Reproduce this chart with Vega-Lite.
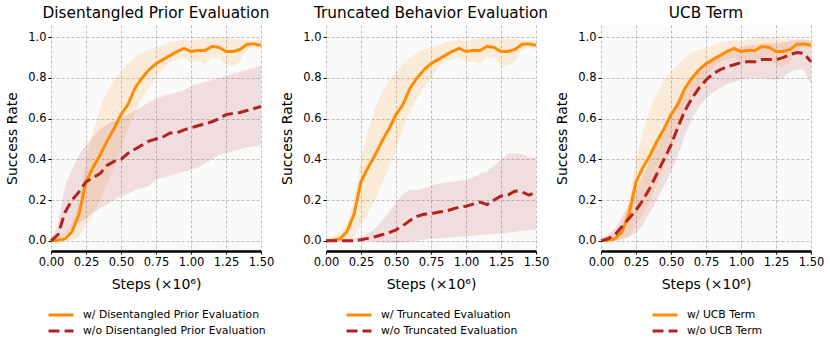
{
  "$schema": "https://vega.github.io/schema/vega-lite/v6.json",
  "padding": {"left": 5, "top": 5, "right": 5, "bottom": 5},
  "background": "white",
  "bounds": "flush",
  "spacing": 65,
  "resolve": {
    "scale": {"stroke": "independent", "strokeDash": "independent", "x": "independent", "y": "independent"},
    "legend": {"stroke": "independent", "strokeDash": "independent"}
  },
  "config": {
    "font": "DejaVu Sans",
    "view": {"fill": "#fafafa", "stroke": null},
    "axis": {
      "gridColor": "#b0b0b0", "gridDash": [3, 2], "gridWidth": 0.8,
      "labelFont": "DejaVu Sans", "titleFont": "DejaVu Sans",
      "labelColor": "black", "titleColor": "black", "titleFontWeight": "normal",
      "tickColor": "black", "tickSize": 3, "labelFontSize": 11.5, "titleFontSize": 14,
      "labelFlush": false, "labelOverlap": false
    },
    "axisX": {"titlePadding": 10},
    "axisY": {"titlePadding": 8},
    "title": {"font": "DejaVu Sans", "fontSize": 15.3, "fontWeight": "normal", "color": "black", "offset": 4},
    "legend": {
      "orient": "bottom", "direction": "vertical", "symbolType": "stroke",
      "symbolStrokeWidth": 3, "symbolSize": 625, "labelFont": "DejaVu Sans",
      "labelFontSize": 10.8, "labelColor": "black", "clipHeight": 16, "offset": 15,
      "labelOffset": 8, "labelLimit": 0, "rowPadding": -4, "layout": {"bottom": {"anchor": "middle"}}
    }
  },
  "datasets": {
    "orange": [
      {"x": 0, "s": "w", "y": 0, "lo": 0, "hi": 0.01},
      {"x": 0.05, "s": "w", "y": 0.003, "lo": 0, "hi": 0.02},
      {"x": 0.1, "s": "w", "y": 0.01, "lo": 0, "hi": 0.04},
      {"x": 0.15, "s": "w", "y": 0.045, "lo": 0, "hi": 0.08},
      {"x": 0.2, "s": "w", "y": 0.13, "lo": 0.02, "hi": 0.2},
      {"x": 0.25, "s": "w", "y": 0.29, "lo": 0.08, "hi": 0.4},
      {"x": 0.3, "s": "w", "y": 0.36, "lo": 0.13, "hi": 0.54},
      {"x": 0.35, "s": "w", "y": 0.42, "lo": 0.2, "hi": 0.65},
      {"x": 0.4, "s": "w", "y": 0.49, "lo": 0.28, "hi": 0.73},
      {"x": 0.45, "s": "w", "y": 0.55, "lo": 0.36, "hi": 0.79},
      {"x": 0.5, "s": "w", "y": 0.62, "lo": 0.45, "hi": 0.83},
      {"x": 0.55, "s": "w", "y": 0.67, "lo": 0.55, "hi": 0.87},
      {"x": 0.6, "s": "w", "y": 0.75, "lo": 0.63, "hi": 0.9},
      {"x": 0.65, "s": "w", "y": 0.8, "lo": 0.7, "hi": 0.925},
      {"x": 0.7, "s": "w", "y": 0.84, "lo": 0.75, "hi": 0.94},
      {"x": 0.75, "s": "w", "y": 0.87, "lo": 0.8, "hi": 0.95},
      {"x": 0.8, "s": "w", "y": 0.89, "lo": 0.85, "hi": 0.96},
      {"x": 0.85, "s": "w", "y": 0.91, "lo": 0.88, "hi": 0.975},
      {"x": 0.9, "s": "w", "y": 0.93, "lo": 0.89, "hi": 0.98},
      {"x": 0.95, "s": "w", "y": 0.945, "lo": 0.9, "hi": 0.99},
      {"x": 1.0, "s": "w", "y": 0.93, "lo": 0.88, "hi": 0.98},
      {"x": 1.05, "s": "w", "y": 0.935, "lo": 0.88, "hi": 0.99},
      {"x": 1.1, "s": "w", "y": 0.935, "lo": 0.87, "hi": 0.995},
      {"x": 1.15, "s": "w", "y": 0.955, "lo": 0.9, "hi": 1.0},
      {"x": 1.2, "s": "w", "y": 0.95, "lo": 0.9, "hi": 1.0},
      {"x": 1.25, "s": "w", "y": 0.93, "lo": 0.86, "hi": 0.995},
      {"x": 1.3, "s": "w", "y": 0.93, "lo": 0.86, "hi": 0.99},
      {"x": 1.35, "s": "w", "y": 0.94, "lo": 0.88, "hi": 0.99},
      {"x": 1.4, "s": "w", "y": 0.965, "lo": 0.94, "hi": 0.985},
      {"x": 1.45, "s": "w", "y": 0.967, "lo": 0.95, "hi": 0.985},
      {"x": 1.5, "s": "w", "y": 0.96, "lo": 0.94, "hi": 0.985}
    ],
    "red1": [
      {"x": 0, "s": "wo", "y": 0, "lo": 0, "hi": 0},
      {"x": 0.05, "s": "wo", "y": 0.03, "lo": 0, "hi": 0.08},
      {"x": 0.1, "s": "wo", "y": 0.14, "lo": 0.03, "hi": 0.27},
      {"x": 0.15, "s": "wo", "y": 0.2, "lo": 0.06, "hi": 0.35},
      {"x": 0.2, "s": "wo", "y": 0.24, "lo": 0.09, "hi": 0.42},
      {"x": 0.25, "s": "wo", "y": 0.29, "lo": 0.11, "hi": 0.47},
      {"x": 0.3, "s": "wo", "y": 0.31, "lo": 0.14, "hi": 0.51},
      {"x": 0.35, "s": "wo", "y": 0.33, "lo": 0.16, "hi": 0.55},
      {"x": 0.4, "s": "wo", "y": 0.37, "lo": 0.18, "hi": 0.57},
      {"x": 0.45, "s": "wo", "y": 0.39, "lo": 0.2, "hi": 0.59},
      {"x": 0.5, "s": "wo", "y": 0.4, "lo": 0.22, "hi": 0.6},
      {"x": 0.55, "s": "wo", "y": 0.43, "lo": 0.23, "hi": 0.62},
      {"x": 0.6, "s": "wo", "y": 0.45, "lo": 0.25, "hi": 0.64},
      {"x": 0.65, "s": "wo", "y": 0.47, "lo": 0.26, "hi": 0.66},
      {"x": 0.7, "s": "wo", "y": 0.49, "lo": 0.27, "hi": 0.68},
      {"x": 0.75, "s": "wo", "y": 0.5, "lo": 0.3, "hi": 0.7},
      {"x": 0.8, "s": "wo", "y": 0.51, "lo": 0.31, "hi": 0.71},
      {"x": 0.85, "s": "wo", "y": 0.53, "lo": 0.32, "hi": 0.72},
      {"x": 0.9, "s": "wo", "y": 0.53, "lo": 0.33, "hi": 0.73},
      {"x": 0.95, "s": "wo", "y": 0.545, "lo": 0.34, "hi": 0.74},
      {"x": 1.0, "s": "wo", "y": 0.555, "lo": 0.35, "hi": 0.76},
      {"x": 1.05, "s": "wo", "y": 0.565, "lo": 0.36, "hi": 0.77},
      {"x": 1.1, "s": "wo", "y": 0.575, "lo": 0.38, "hi": 0.78},
      {"x": 1.15, "s": "wo", "y": 0.585, "lo": 0.4, "hi": 0.79},
      {"x": 1.2, "s": "wo", "y": 0.6, "lo": 0.42, "hi": 0.8},
      {"x": 1.25, "s": "wo", "y": 0.62, "lo": 0.43, "hi": 0.81},
      {"x": 1.3, "s": "wo", "y": 0.625, "lo": 0.44, "hi": 0.82},
      {"x": 1.35, "s": "wo", "y": 0.63, "lo": 0.45, "hi": 0.83},
      {"x": 1.4, "s": "wo", "y": 0.64, "lo": 0.46, "hi": 0.84},
      {"x": 1.45, "s": "wo", "y": 0.65, "lo": 0.465, "hi": 0.85},
      {"x": 1.5, "s": "wo", "y": 0.66, "lo": 0.47, "hi": 0.86}
    ],
    "red2": [
      {"x": 0, "s": "wo", "y": 0, "lo": 0, "hi": 0},
      {"x": 0.05, "s": "wo", "y": 0, "lo": 0, "hi": 0},
      {"x": 0.1, "s": "wo", "y": 0, "lo": 0, "hi": 0.005},
      {"x": 0.15, "s": "wo", "y": 0, "lo": 0, "hi": 0.01},
      {"x": 0.2, "s": "wo", "y": 0, "lo": 0, "hi": 0.015},
      {"x": 0.25, "s": "wo", "y": 0.005, "lo": 0, "hi": 0.02},
      {"x": 0.3, "s": "wo", "y": 0.012, "lo": 0, "hi": 0.035},
      {"x": 0.35, "s": "wo", "y": 0.02, "lo": -0.005, "hi": 0.06},
      {"x": 0.4, "s": "wo", "y": 0.03, "lo": -0.01, "hi": 0.1},
      {"x": 0.45, "s": "wo", "y": 0.04, "lo": -0.01, "hi": 0.14},
      {"x": 0.5, "s": "wo", "y": 0.054, "lo": -0.01, "hi": 0.19},
      {"x": 0.55, "s": "wo", "y": 0.075, "lo": -0.01, "hi": 0.23},
      {"x": 0.6, "s": "wo", "y": 0.1, "lo": -0.005, "hi": 0.25},
      {"x": 0.65, "s": "wo", "y": 0.12, "lo": 0, "hi": 0.25},
      {"x": 0.7, "s": "wo", "y": 0.13, "lo": 0.005, "hi": 0.26},
      {"x": 0.75, "s": "wo", "y": 0.133, "lo": 0.01, "hi": 0.27},
      {"x": 0.8, "s": "wo", "y": 0.14, "lo": 0.012, "hi": 0.28},
      {"x": 0.85, "s": "wo", "y": 0.145, "lo": 0.015, "hi": 0.285},
      {"x": 0.9, "s": "wo", "y": 0.155, "lo": 0.018, "hi": 0.29},
      {"x": 0.95, "s": "wo", "y": 0.165, "lo": 0.02, "hi": 0.295},
      {"x": 1.0, "s": "wo", "y": 0.17, "lo": 0.022, "hi": 0.3},
      {"x": 1.05, "s": "wo", "y": 0.18, "lo": 0.025, "hi": 0.31},
      {"x": 1.1, "s": "wo", "y": 0.19, "lo": 0.028, "hi": 0.33},
      {"x": 1.15, "s": "wo", "y": 0.178, "lo": 0.03, "hi": 0.34},
      {"x": 1.2, "s": "wo", "y": 0.2, "lo": 0.033, "hi": 0.37},
      {"x": 1.25, "s": "wo", "y": 0.22, "lo": 0.036, "hi": 0.4},
      {"x": 1.3, "s": "wo", "y": 0.225, "lo": 0.04, "hi": 0.425},
      {"x": 1.35, "s": "wo", "y": 0.245, "lo": 0.045, "hi": 0.43},
      {"x": 1.4, "s": "wo", "y": 0.24, "lo": 0.05, "hi": 0.425},
      {"x": 1.45, "s": "wo", "y": 0.224, "lo": 0.052, "hi": 0.41},
      {"x": 1.5, "s": "wo", "y": 0.24, "lo": 0.055, "hi": 0.41}
    ],
    "red3": [
      {"x": 0, "s": "wo", "y": 0, "lo": 0, "hi": 0.01},
      {"x": 0.05, "s": "wo", "y": 0.01, "lo": 0, "hi": 0.03},
      {"x": 0.1, "s": "wo", "y": 0.03, "lo": 0, "hi": 0.06},
      {"x": 0.15, "s": "wo", "y": 0.07, "lo": 0.01, "hi": 0.12},
      {"x": 0.2, "s": "wo", "y": 0.11, "lo": 0.02, "hi": 0.18},
      {"x": 0.25, "s": "wo", "y": 0.15, "lo": 0.04, "hi": 0.25},
      {"x": 0.3, "s": "wo", "y": 0.2, "lo": 0.08, "hi": 0.32},
      {"x": 0.35, "s": "wo", "y": 0.26, "lo": 0.14, "hi": 0.4},
      {"x": 0.4, "s": "wo", "y": 0.33, "lo": 0.2, "hi": 0.48},
      {"x": 0.45, "s": "wo", "y": 0.4, "lo": 0.27, "hi": 0.56},
      {"x": 0.5, "s": "wo", "y": 0.47, "lo": 0.34, "hi": 0.63},
      {"x": 0.55, "s": "wo", "y": 0.56, "lo": 0.42, "hi": 0.7},
      {"x": 0.6, "s": "wo", "y": 0.64, "lo": 0.52, "hi": 0.76},
      {"x": 0.65, "s": "wo", "y": 0.7, "lo": 0.6, "hi": 0.81},
      {"x": 0.7, "s": "wo", "y": 0.75, "lo": 0.66, "hi": 0.85},
      {"x": 0.75, "s": "wo", "y": 0.79, "lo": 0.7, "hi": 0.88},
      {"x": 0.8, "s": "wo", "y": 0.82, "lo": 0.73, "hi": 0.9},
      {"x": 0.85, "s": "wo", "y": 0.84, "lo": 0.75, "hi": 0.92},
      {"x": 0.9, "s": "wo", "y": 0.855, "lo": 0.77, "hi": 0.93},
      {"x": 0.95, "s": "wo", "y": 0.865, "lo": 0.78, "hi": 0.94},
      {"x": 1.0, "s": "wo", "y": 0.875, "lo": 0.79, "hi": 0.95},
      {"x": 1.05, "s": "wo", "y": 0.88, "lo": 0.8, "hi": 0.96},
      {"x": 1.1, "s": "wo", "y": 0.88, "lo": 0.8, "hi": 0.96},
      {"x": 1.15, "s": "wo", "y": 0.89, "lo": 0.8, "hi": 0.97},
      {"x": 1.2, "s": "wo", "y": 0.89, "lo": 0.795, "hi": 0.97},
      {"x": 1.25, "s": "wo", "y": 0.89, "lo": 0.79, "hi": 0.97},
      {"x": 1.3, "s": "wo", "y": 0.9, "lo": 0.8, "hi": 0.975},
      {"x": 1.35, "s": "wo", "y": 0.915, "lo": 0.83, "hi": 0.98},
      {"x": 1.4, "s": "wo", "y": 0.925, "lo": 0.84, "hi": 0.99},
      {"x": 1.45, "s": "wo", "y": 0.92, "lo": 0.84, "hi": 0.99},
      {"x": 1.5, "s": "wo", "y": 0.88, "lo": 0.77, "hi": 0.98}
    ]
  },
  "hconcat": [
    {
      "title": "Disentangled Prior Evaluation",
      "width": 210, "height": 226,
      "encoding": {
        "x": {"field": "x", "type": "quantitative", "scale": {"domain": [0, 1.5], "nice": false},
              "axis": {"values": [0, 0.25, 0.5, 0.75, 1, 1.25, 1.5], "format": ".2f", "title": "Steps (×10⁶)", "domainColor": "black", "domainWidth": 2.5}},
        "y": {"field": "y", "type": "quantitative", "scale": {"domain": [-0.05, 1.06], "nice": false, "zero": false},
              "axis": {"values": [0, 0.2, 0.4, 0.6, 0.8, 1.0], "format": ".1f", "title": "Success Rate", "domain": false}}
      },
      "layer": [
        {"data": {"name": "orange"}, "mark": {"type": "area", "color": "#ff8c00", "opacity": 0.13}, "encoding": {"y": {"field": "lo", "type": "quantitative"}, "y2": {"field": "hi"}}},
        {"data": {"name": "red1"}, "mark": {"type": "area", "color": "#b22222", "opacity": 0.13}, "encoding": {"y": {"field": "lo", "type": "quantitative"}, "y2": {"field": "hi"}}},
        {"data": {"name": "orange"}, "mark": {"type": "line", "strokeWidth": 3},
         "encoding": {
           "stroke": {"field": "s", "type": "nominal", "scale": {"domain": ["w", "wo"], "range": ["#ff8c00", "#b22222"]},
                      "legend": {"title": null, "labelExpr": "datum.label == 'w' ? 'w/ Disentangled Prior Evaluation' : 'w/o Disentangled Prior Evaluation'"}},
           "strokeDash": {"field": "s", "type": "nominal", "scale": {"domain": ["w", "wo"], "range": [[1, 0], [11, 5]]},
                      "legend": {"title": null, "labelExpr": "datum.label == 'w' ? 'w/ Disentangled Prior Evaluation' : 'w/o Disentangled Prior Evaluation'"}}
         }},
        {"data": {"name": "red1"}, "mark": {"type": "line", "strokeWidth": 3},
         "encoding": {
           "stroke": {"field": "s", "type": "nominal"},
           "strokeDash": {"field": "s", "type": "nominal"}
         }}
      ]
    },
    {
      "title": "Truncated Behavior Evaluation",
      "width": 210, "height": 226,
      "encoding": {
        "x": {"field": "x", "type": "quantitative", "scale": {"domain": [0, 1.5], "nice": false},
              "axis": {"values": [0, 0.25, 0.5, 0.75, 1, 1.25, 1.5], "format": ".2f", "title": "Steps (×10⁶)", "domainColor": "black", "domainWidth": 2.5}},
        "y": {"field": "y", "type": "quantitative", "scale": {"domain": [-0.05, 1.06], "nice": false, "zero": false},
              "axis": {"values": [0, 0.2, 0.4, 0.6, 0.8, 1.0], "format": ".1f", "title": "Success Rate", "domain": false}}
      },
      "layer": [
        {"data": {"name": "orange"}, "mark": {"type": "area", "color": "#ff8c00", "opacity": 0.13}, "encoding": {"y": {"field": "lo", "type": "quantitative"}, "y2": {"field": "hi"}}},
        {"data": {"name": "red2"}, "mark": {"type": "area", "color": "#b22222", "opacity": 0.13}, "encoding": {"y": {"field": "lo", "type": "quantitative"}, "y2": {"field": "hi"}}},
        {"data": {"name": "orange"}, "mark": {"type": "line", "strokeWidth": 3},
         "encoding": {
           "stroke": {"field": "s", "type": "nominal", "scale": {"domain": ["w", "wo"], "range": ["#ff8c00", "#b22222"]},
                      "legend": {"title": null, "labelExpr": "datum.label == 'w' ? 'w/ Truncated Evaluation' : 'w/o Truncated Evaluation'"}},
           "strokeDash": {"field": "s", "type": "nominal", "scale": {"domain": ["w", "wo"], "range": [[1, 0], [11, 5]]},
                      "legend": {"title": null, "labelExpr": "datum.label == 'w' ? 'w/ Truncated Evaluation' : 'w/o Truncated Evaluation'"}}
         }},
        {"data": {"name": "red2"}, "mark": {"type": "line", "strokeWidth": 3},
         "encoding": {
           "stroke": {"field": "s", "type": "nominal"},
           "strokeDash": {"field": "s", "type": "nominal"}
         }}
      ]
    },
    {
      "title": "UCB Term",
      "width": 210, "height": 226,
      "encoding": {
        "x": {"field": "x", "type": "quantitative", "scale": {"domain": [0, 1.5], "nice": false},
              "axis": {"values": [0, 0.25, 0.5, 0.75, 1, 1.25, 1.5], "format": ".2f", "title": "Steps (×10⁶)", "domainColor": "black", "domainWidth": 2.5}},
        "y": {"field": "y", "type": "quantitative", "scale": {"domain": [-0.05, 1.06], "nice": false, "zero": false},
              "axis": {"values": [0, 0.2, 0.4, 0.6, 0.8, 1.0], "format": ".1f", "title": "Success Rate", "domain": false}}
      },
      "layer": [
        {"data": {"name": "orange"}, "mark": {"type": "area", "color": "#ff8c00", "opacity": 0.13}, "encoding": {"y": {"field": "lo", "type": "quantitative"}, "y2": {"field": "hi"}}},
        {"data": {"name": "red3"}, "mark": {"type": "area", "color": "#b22222", "opacity": 0.13}, "encoding": {"y": {"field": "lo", "type": "quantitative"}, "y2": {"field": "hi"}}},
        {"data": {"name": "orange"}, "mark": {"type": "line", "strokeWidth": 3},
         "encoding": {
           "stroke": {"field": "s", "type": "nominal", "scale": {"domain": ["w", "wo"], "range": ["#ff8c00", "#b22222"]},
                      "legend": {"title": null, "labelExpr": "datum.label == 'w' ? 'w/ UCB Term' : 'w/o UCB Term'"}},
           "strokeDash": {"field": "s", "type": "nominal", "scale": {"domain": ["w", "wo"], "range": [[1, 0], [11, 5]]},
                      "legend": {"title": null, "labelExpr": "datum.label == 'w' ? 'w/ UCB Term' : 'w/o UCB Term'"}}
         }},
        {"data": {"name": "red3"}, "mark": {"type": "line", "strokeWidth": 3},
         "encoding": {
           "stroke": {"field": "s", "type": "nominal"},
           "strokeDash": {"field": "s", "type": "nominal"}
         }}
      ]
    }
  ]
}
